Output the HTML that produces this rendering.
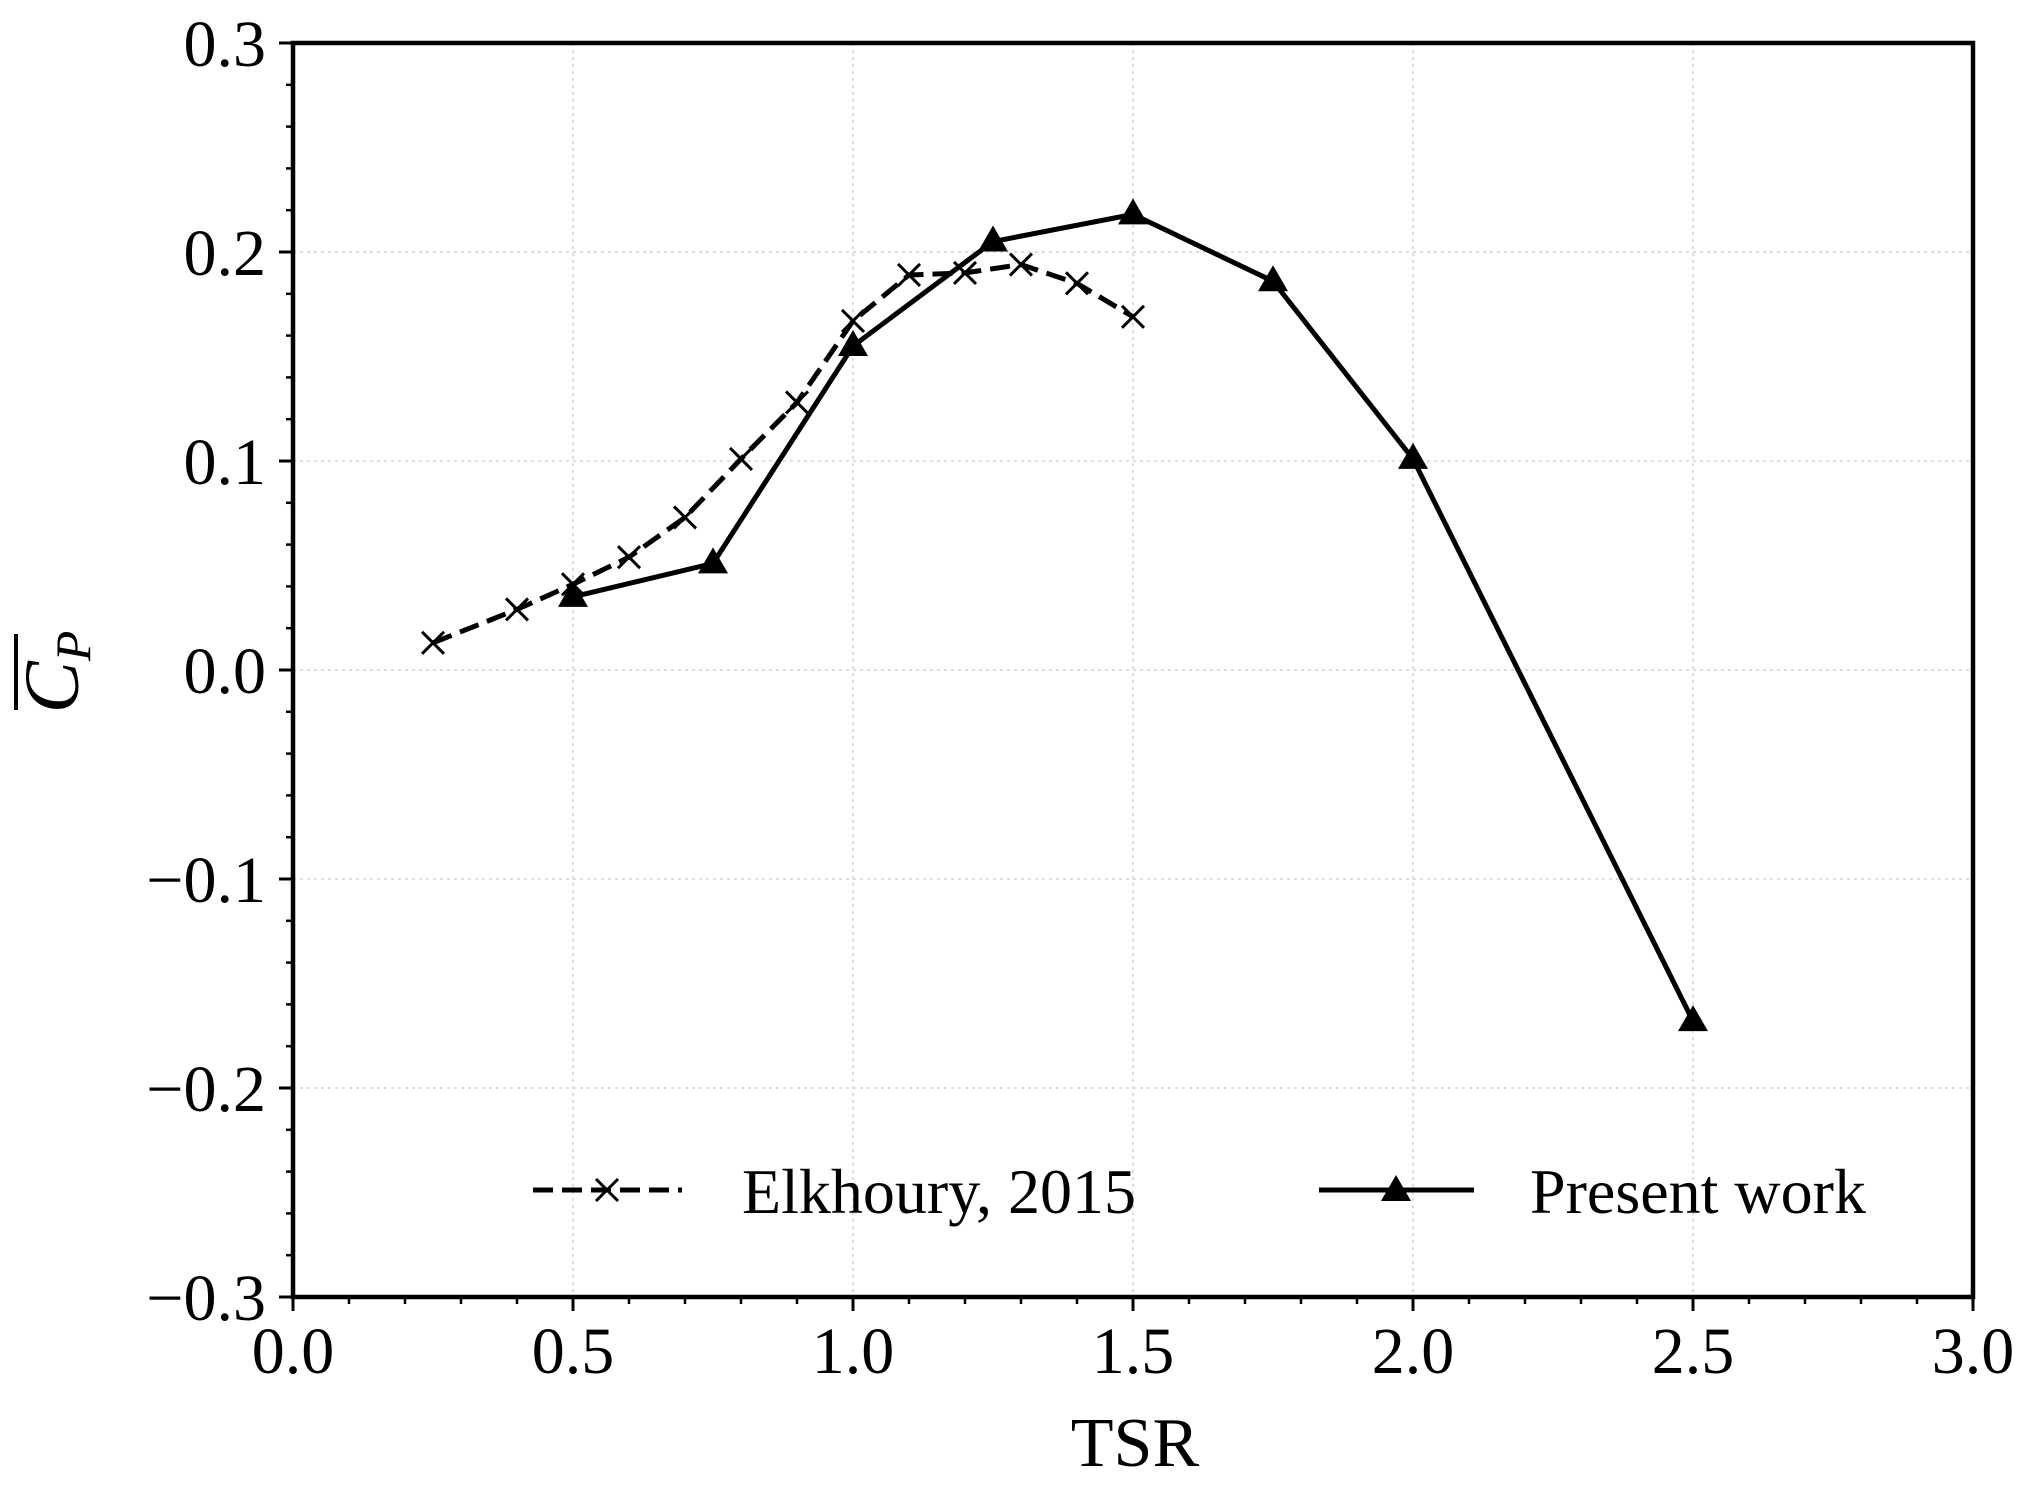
<!DOCTYPE html>
<html><head><meta charset="utf-8"><style>
html,body{margin:0;padding:0;background:#fff;}
svg{display:block;font-family:"Liberation Serif",serif;}
</style></head><body>
<svg id="chart" width="2033" height="1487" viewBox="0 0 2033 1487" xmlns="http://www.w3.org/2000/svg">
<g id="grid"></g>
<g id="ticks"></g>
<g id="series"></g>
<rect x="293" y="43" width="1680" height="1254" fill="none" stroke="#000" stroke-width="4.5"/>
<text x="1135" y="1466" font-size="70" text-anchor="middle">TSR</text>
<g transform="translate(78,672) rotate(-90)">
<text x="0" y="0" font-size="78" font-style="italic" text-anchor="middle">C<tspan font-size="50" dy="12">P</tspan></text>
<line x1="-38" y1="-62" x2="38" y2="-62" stroke="#000" stroke-width="4"/>
</g>
<g>
<g>
<line x1="533" y1="1190" x2="682" y2="1190" stroke="#000" stroke-width="5" stroke-dasharray="20,9"/>
<path d="M596,1179 L618,1201 M618,1179 L596,1201" stroke="#000" stroke-width="3"/>
<text x="742" y="1213" font-size="64">Elkhoury, 2015</text>
</g>
<g>
<line x1="1319" y1="1190" x2="1474" y2="1190" stroke="#000" stroke-width="5"/>
<path d="M1396,1175 L1411,1201 L1381,1201 Z" fill="#000"/>
<text x="1530" y="1213" font-size="64">Present work</text>
</g>
</g>
</svg>
<script>
const elkX=[0.25,0.4,0.5,0.6,0.7,0.8,0.9,1.0,1.1,1.2,1.3,1.4,1.5];
const elkY=[0.013,0.029,0.041,0.054,0.073,0.101,0.128,0.167,0.189,0.190,0.194,0.185,0.169];
const presX=[0.5,0.75,1.0,1.25,1.5,1.75,2.0,2.5];
const presY=[0.035,0.051,0.155,0.205,0.218,0.186,0.101,-0.168];
const xTicks=[0.0,0.5,1.0,1.5,2.0,2.5,3.0];
const xTickLabels=["0.0","0.5","1.0","1.5","2.0","2.5","3.0"];
const yTicks=[-0.3,-0.2,-0.1,0.0,0.1,0.2,0.3];
const yTickLabels=["\u22120.3","\u22120.2","\u22120.1","0.0","0.1","0.2","0.3"];
const L=293,R=1973,T=43,B=1297;
function sx(v){return L+(v-0)/(3-0)*(R-L);}
function sy(v){return B-(v+0.3)/0.6*(B-T);}
const NS="http://www.w3.org/2000/svg";
function mk(tag,attrs,parent){const e=document.createElementNS(NS,tag);for(const k in attrs)e.setAttribute(k,attrs[k]);parent.appendChild(e);return e;}
const grid=document.getElementById('grid'),ticks=document.getElementById('ticks'),ser=document.getElementById('series');
xTicks.forEach((v,i)=>{
  const g=mk('line',{x1:sx(v),x2:sx(v),y1:T,y2:B,stroke:'#ddd','stroke-width':2,'stroke-dasharray':'3,4'},grid);
  
  
  const t=mk('line',{x1:sx(v),x2:sx(v),y1:B,y2:B+14,stroke:'#000','stroke-width':3},ticks);
  
  
  const l=mk('text',{x:sx(v),y:1373,'font-size':66,'text-anchor':'middle'},ticks);
  l.textContent=xTickLabels[i];
  
  
});
for(let k=0;k<=30;k++){const v=k*0.1;if(k%5===0)continue;
  const m=mk('line',{x1:sx(v),x2:sx(v),y1:B,y2:B+7,stroke:'#000','stroke-width':2.5},ticks);
  
  
}
yTicks.forEach((v,i)=>{
  const g=mk('line',{x1:L,x2:R,y1:sy(v),y2:sy(v),stroke:'#ddd','stroke-width':2,'stroke-dasharray':'3,4'},grid);
  
  
  const t=mk('line',{x1:L-14,x2:L,y1:sy(v),y2:sy(v),stroke:'#000','stroke-width':3},ticks);
  
  
  const l=mk('text',{x:266,y:sy(v)+23,'font-size':66,'text-anchor':'end'},ticks);
  l.textContent=yTickLabels[i];
  
  
});
for(let k=0;k<=30;k++){if(k%5===0)continue;const v=-0.3+k*0.02;
  const m=mk('line',{x1:L-7,x2:L,y1:sy(v),y2:sy(v),stroke:'#000','stroke-width':2.5},ticks);
  
  
}
const ep=mk('polyline',{points:elkX.map((x,i)=>sx(x)+','+sy(elkY[i])).join(' '),fill:'none',stroke:'#000','stroke-width':5,'stroke-dasharray':'20,9'},ser);


elkX.forEach((x,i)=>{const cx=sx(x),cy=sy(elkY[i]);
  const p=mk('path',{d:`M${cx-11},${cy-11} L${cx+11},${cy+11} M${cx+11},${cy-11} L${cx-11},${cy+11}`,stroke:'#000','stroke-width':3},ser);
  
  
});
const pp=mk('polyline',{points:presX.map((x,i)=>sx(x)+','+sy(presY[i])).join(' '),fill:'none',stroke:'#000','stroke-width':5},ser);


presX.forEach((x,i)=>{const cx=sx(x),cy=sy(presY[i]);
  const p=mk('path',{d:`M${cx},${cy-16} L${cx+15},${cy+10} L${cx-15},${cy+10} Z`,fill:'#000'},ser);
  
  
});
</script>
</body></html>
